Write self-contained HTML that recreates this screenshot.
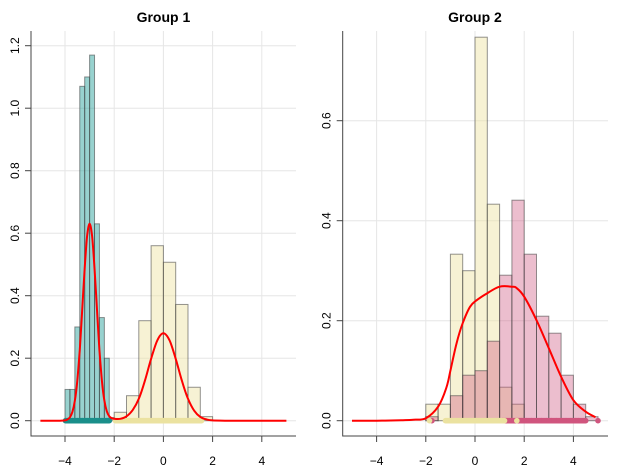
<!DOCTYPE html>
<html><head><meta charset="utf-8"><style>
body{margin:0;background:#fff}
svg{display:block;font-family:"Liberation Sans",sans-serif}
</style></head><body>
<svg id="chart" width="623" height="467" viewBox="0 0 623 467"></svg>
<script>
// ---------- data ----------
const xTicks = [-4, -2, 0, 2, 4];
const p1YTicks = [0, 0.2, 0.4, 0.6, 0.8, 1.0, 1.2];
const p2YTicks = [0, 0.2, 0.4, 0.6];
// group 1 teal histogram (bin width 0.2 from -4)
const g1TealStart = -4, g1TealWidth = 0.2;
const g1Teal = [0.10, 0.10, 0.30, 1.07, 1.10, 1.17, 0.63, 0.33, 0.20, 0.01];
// group 1 yellow histogram (bin width 0.5 from -2)
const g1YellowStart = -2, g1YellowWidth = 0.5;
const g1Yellow = [0.027, 0.08, 0.32, 0.56, 0.507, 0.372, 0.107, 0.013];
// group 1 density
const g1DensX = [-5,-4.5,-4.2,-4,-3.9,-3.8,-3.7,-3.6,-3.5,-3.4,-3.3,-3.2,-3.1,-3.0,-2.9,-2.8,-2.7,-2.6,-2.5,-2.4,-2.3,-2.2,-2.1,-2.0,-1.75,-1.5,-1.25,-1.0,-0.75,-0.5,-0.25,0,0.25,0.5,0.75,1.0,1.25,1.5,1.75,2.0,2.5,3,4,5];
const g1DensY = [0,0,0,0.001,0.004,0.011,0.028,0.063,0.128,0.227,0.355,0.488,0.591,0.63,0.591,0.488,0.355,0.227,0.128,0.064,0.03,0.014,0.008,0.006,0.006,0.014,0.034,0.07,0.128,0.198,0.257,0.28,0.257,0.198,0.128,0.07,0.032,0.012,0.004,0.001,0,0,0,0];
// group 2 yellow histogram
const g2YellowStart = -2, g2YellowWidth = 0.5;
const g2Yellow = [0.033, 0.033, 0.333, 0.30, 0.767, 0.433, 0.067, 0.033];
// group 2 pink histogram
const g2PinkStart = -2, g2PinkWidth = 0.5;
const g2Pink = [0.008, 0, 0.05, 0.091, 0.10, 0.159, 0.291, 0.441, 0.333, 0.209, 0.175, 0.091, 0.033, 0.008];
// group 2 density
const g2DensX = [-5,-4,-3,-2.5,-2,-1.5,-1.17,-1,-0.75,-0.5,-0.2,0.07,0.5,1,1.5,1.7,2,2.5,3,3.5,4,4.5,4.9];
const g2DensY = [0,0,0.001,0.002,0.005,0.028,0.065,0.10,0.155,0.195,0.228,0.241,0.255,0.268,0.268,0.265,0.248,0.201,0.145,0.088,0.041,0.018,0.007];
// rug samples
const g1RugTeal = [-3.98,-3.9,-3.8,-3.7,-3.6,-3.5,-3.4,-3.3,-3.2,-3.1,-3.0,-2.9,-2.8,-2.7,-2.6,-2.5,-2.4,-2.3,-2.2];
const g1RugYellow = [-1.95,-1.85,-1.7,-1.6,-1.35,-1.2,-1.0,-0.8,-0.6,-0.4,-0.2,0,0.2,0.4,0.6,0.8,1.0,1.2,1.35,1.55];
const g2RugYellow = [-1.85,-1.2,-1.0,-0.8,-0.6,-0.4,-0.2,0,0.2,0.4,0.6,0.8,1.0,1.2,1.7];
const g2RugPink = [-1.75,1.1,1.3,1.5,1.7,1.9,2.1,2.3,2.5,2.7,2.9,3.1,3.3,3.5,3.7,3.9,4.1,4.2,4.5,5.0];

const NS = "http://www.w3.org/2000/svg";
const svg = document.getElementById('chart');
function mk(tag, attrs, parent){const e=document.createElementNS(NS,tag);for(const k in attrs)e.setAttribute(k,attrs[k]);(parent||svg).appendChild(e);return e;}

function smooth(pts){
  let d='M'+pts[0][0].toFixed(1)+','+pts[0][1].toFixed(1);
  for(let i=0;i<pts.length-1;i++){
    const p0=pts[i-1]||pts[i], p1=pts[i], p2=pts[i+1], p3=pts[i+2]||p2;
    const c1x=p1[0]+(p2[0]-p0[0])/6, c1y=p1[1]+(p2[1]-p0[1])/6;
    const c2x=p2[0]-(p3[0]-p1[0])/6, c2y=p2[1]-(p3[1]-p1[1])/6;
    d+=` C${c1x.toFixed(1)},${c1y.toFixed(1)} ${c2x.toFixed(1)},${c2y.toFixed(1)} ${p2[0].toFixed(1)},${p2[1].toFixed(1)}`;
  }
  return d;
}

function panel(cfg){
  const g = mk('g',{});
  
  
  const X = v => cfg.x0 + v*24.6;
  const Y = v => 420.7 - v*cfg.ys;
  xTicks.forEach(t=>{const l=mk('line',{x1:X(t),x2:X(t),y1:31,y2:435,stroke:'#e6e6e6','stroke-width':1},g);
    
    });
  cfg.yTicks.forEach(t=>{const l=mk('line',{x1:cfg.left,x2:cfg.right,y1:Y(t),y2:Y(t),stroke:'#e6e6e6','stroke-width':1},g);
    
    });
  cfg.hists.forEach(h=>{
    h.vals.forEach((v,i)=>{ if(v<=0) return;
      const a=h.start+i*h.w;
      const r=mk('rect',{x:X(a),y:Y(v),width:X(a+h.w)-X(a),height:Y(0)-Y(v),fill:h.fill,stroke:'rgba(60,60,60,0.55)','stroke-width':1},g);
      
      
    });
  });
  cfg.rugs.forEach(rg=>{
    rg.vals.forEach(v=>{const c=mk('circle',{cx:X(v),cy:Y(0),r:2.8,fill:rg.color},g);
      
      });
    for(let i=0;i<rg.vals.length-1;i++){ if(rg.vals[i+1]-rg.vals[i]<0.3){
      const l=mk('line',{x1:X(rg.vals[i]),x2:X(rg.vals[i+1]),y1:Y(0),y2:Y(0),stroke:rg.color,'stroke-width':5.6},g);
      
      }}
  });
  const pts = cfg.dx.map((x,i)=>[X(x),Y(cfg.dy[i])]);
  const p=mk('path',{d:smooth(pts),fill:'none',stroke:'#ff0000','stroke-width':2,'stroke-linejoin':'round'},g);
  
  
  const ax=mk('path',{d:`M${cfg.left},31 L${cfg.left},436 L${cfg.right},436`,fill:'none',stroke:'#444','stroke-width':1},g);
  
  
  xTicks.forEach(t=>{mk('line',{x1:X(t),x2:X(t),y1:436,y2:442,stroke:'#444'},g);
    const tx=mk('text',{x:X(t),y:465,'text-anchor':'middle','font-size':12,fill:'#000'},g);
    tx.textContent = t<0 ? '\u2212'+(-t) : String(t);
    
    });
  cfg.yTicks.forEach(t=>{mk('line',{x1:cfg.left-6,x2:cfg.left,y1:Y(t),y2:Y(t),stroke:'#444'},g);
    const tx=mk('text',{x:0,y:0,'text-anchor':'middle','font-size':12,fill:'#000',transform:`translate(${cfg.left-12},${Y(t)}) rotate(-90)`},g);
    tx.textContent = t.toFixed(1);
    
    });
  const ti=mk('text',{x:X(0),y:22,'text-anchor':'middle','font-size':14,'font-weight':'bold',fill:'#000'},g);
  ti.textContent=cfg.title;
  
  
}

panel({name:'group-1-panel',title:'Group 1',x0:163.4,ys:312.5,left:31,right:296,yTicks:p1YTicks,
  hists:[{name:'teal',start:g1TealStart,w:g1TealWidth,vals:g1Teal,fill:'rgba(40,160,155,0.48)'},
         {name:'yellow',start:g1YellowStart,w:g1YellowWidth,vals:g1Yellow,fill:'rgba(238,226,160,0.45)'}],
  rugs:[{vals:g1RugYellow,color:'#ebe2a0'},{vals:g1RugTeal,color:'#1a8f8a'}],
  dx:g1DensX,dy:g1DensY});
panel({name:'group-2-panel',title:'Group 2',x0:475,ys:500,left:342.7,right:608,yTicks:p2YTicks,
  hists:[{name:'yellow',start:g2YellowStart,w:g2YellowWidth,vals:g2Yellow,fill:'rgba(238,226,160,0.45)'},
         {name:'pink',start:g2PinkStart,w:g2PinkWidth,vals:g2Pink,fill:'rgba(205,85,125,0.38)'}],
  rugs:[{vals:g2RugPink,color:'#d0557e'},{vals:g2RugYellow,color:'#ebe2a0'}],
  dx:g2DensX,dy:g2DensY});
</script>
</body></html>
